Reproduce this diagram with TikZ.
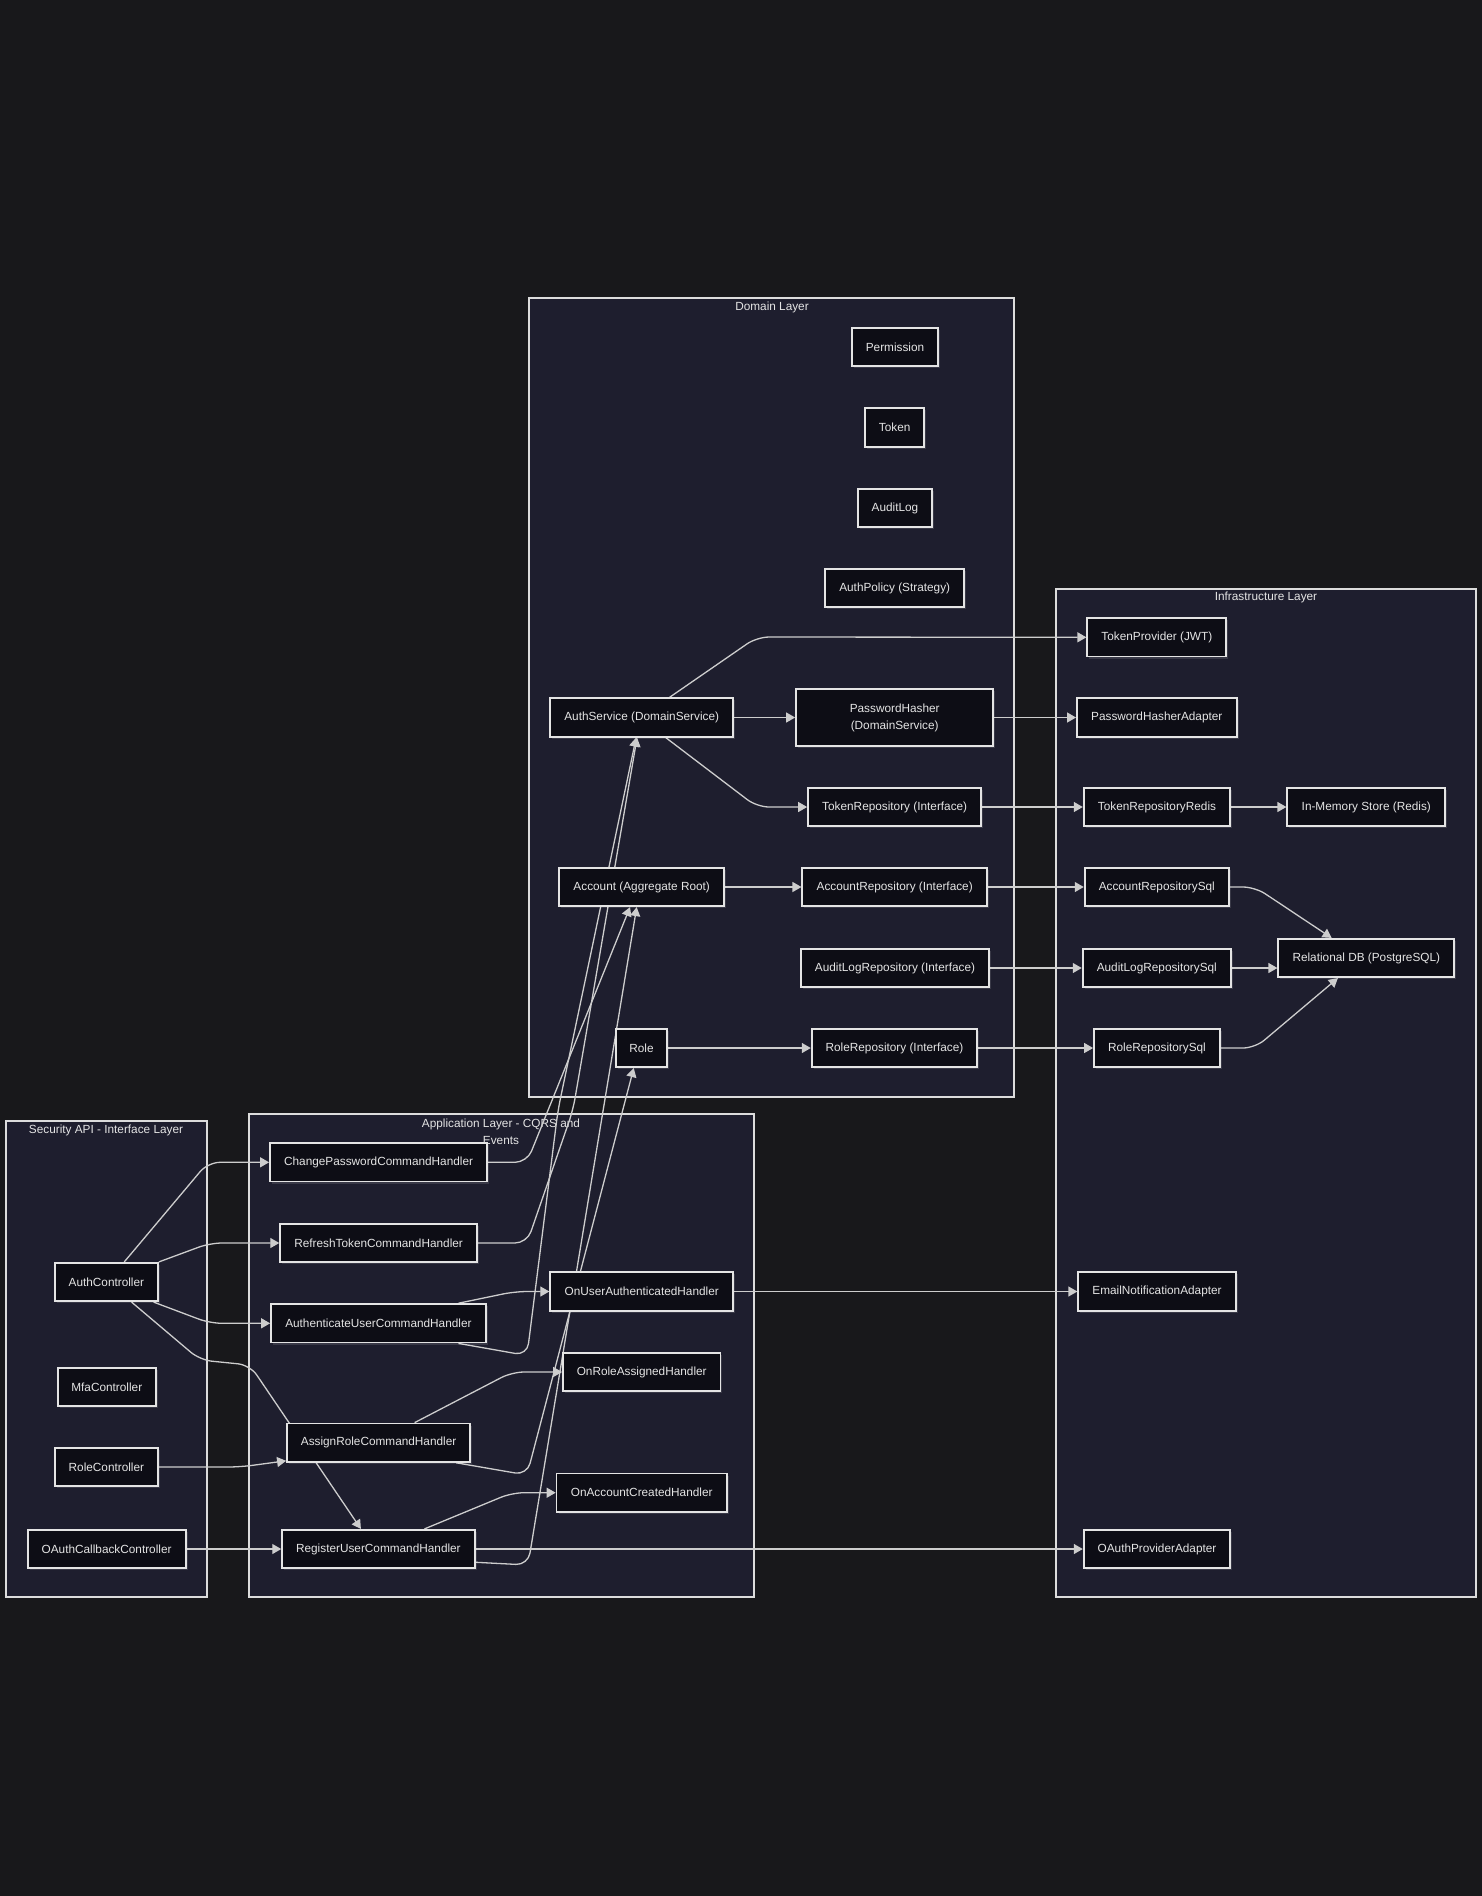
\documentclass[tikz,border=0pt]{standalone}
\usepackage{fontspec}
\setmainfont{Liberation Sans}
\usetikzlibrary{arrows.meta,calc,shadows}

\definecolor{canvas}{RGB}{24,24,27}
\definecolor{groupfill}{RGB}{30,30,46}
\definecolor{groupline}{RGB}{220,220,220}
\definecolor{boxfill}{RGB}{13,13,21}
\definecolor{boxline}{RGB}{228,228,228}
\definecolor{wire}{RGB}{205,205,205}
\definecolor{ink}{RGB}{228,228,228}

\pgfdeclarelayer{back}
\pgfdeclarelayer{wires}
\pgfsetlayers{back,wires,main}

\tikzset{
  comp/.style={draw=boxline, line width=1.8pt, fill=boxfill, text=ink,
    font=\fontsize{11.8}{17}\selectfont, minimum height=38.4pt,
    inner xsep=0pt, inner ysep=0pt, align=center,
    drop shadow={shadow xshift=2pt, shadow yshift=-2pt, fill=white, opacity=0.12}},
  group/.style={draw=groupline, line width=1.5pt, fill=groupfill},
  gtitle/.style={text=ink, font=\fontsize{11.8}{17}\selectfont, align=center, inner sep=0pt},
  link/.style={draw=wire, line width=1.3pt, -{Triangle[length=9pt,width=10pt]}, rounded corners=12pt},
}

\begin{document}
\begin{tikzpicture}[x=1pt,y=-1pt]
\useasboundingbox (0,0) rectangle (1482,1896);

% canvas, layer frames and their titles
\begin{pgfonlayer}{back}
  \fill[canvas] (0,0) rectangle (1482,1896);
  \draw[group] (529,298) rectangle (1014,1097);
  \draw[group] (1056,589) rectangle (1476,1597);
  \draw[group] (6,1121) rectangle (207,1597);
  \draw[group] (249,1114) rectangle (754,1597);
  \node[gtitle] (tdomain) at (772,307) {Domain Layer};
  \node[gtitle] (tinfra) at (1266,597) {Infrastructure Layer};
  \node[gtitle] (tapi) at (106,1130) {Security API - Interface Layer};
  \node[gtitle] (tapp) at (501,1131.5) {Application Layer - CQRS and\\Events};
\end{pgfonlayer}

% domain layer
\node[comp, minimum width=86.3pt]  (perm)      at (895,347)    {Permission};
\node[comp, minimum width=59.3pt]  (token)     at (894.7,427.5) {Token};
\node[comp, minimum width=74.3pt]  (auditlog)  at (895,508)    {AuditLog};
\node[comp, minimum width=139.3pt] (policy)    at (894.7,588)  {AuthPolicy (Strategy)};
\node[comp, minimum width=183.3pt] (authsvc)   at (641.7,717.5) {AuthService (DomainService)};
\node[comp, minimum width=197.3pt, minimum height=56.4pt] (hasher) at (894.7,717.5) {PasswordHasher\\(DomainService)};
\node[comp, minimum width=173.3pt] (tokrepo)   at (894.7,807)  {TokenRepository (Interface)};
\node[comp, minimum width=164.7pt] (account)   at (641.7,887)  {Account (Aggregate Root)};
\node[comp, minimum width=184.7pt] (accrepo)   at (894.7,887)  {AccountRepository (Interface)};
\node[comp, minimum width=188.3pt] (auditrepo) at (895,968)    {AuditLogRepository (Interface)};
\node[comp, minimum width=51.6pt]  (role)      at (641.5,1048) {Role};
\node[comp, minimum width=165.6pt] (rolerepo)  at (894.5,1048) {RoleRepository (Interface)};

% infrastructure layer
\node[comp, minimum width=139pt]   (tokprov)   at (1156.8,637.3) {TokenProvider (JWT)};
\node[comp, minimum width=159.7pt] (hashadapt) at (1156.8,717.5) {PasswordHasherAdapter};
\node[comp, minimum width=146.6pt] (tokredis)  at (1157,807)   {TokenRepositoryRedis};
\node[comp, minimum width=158pt]   (redis)     at (1366.3,807) {In-Memory Store (Redis)};
\node[comp, minimum width=144.3pt] (accsql)    at (1156.8,887) {AccountRepositorySql};
\node[comp, minimum width=148.3pt] (auditsql)  at (1156.8,968) {AuditLogRepositorySql};
\node[comp, minimum width=176pt]   (pg)        at (1366.3,958) {Relational DB (PostgreSQL)};
\node[comp, minimum width=126pt]   (rolesql)   at (1157,1048)  {RoleRepositorySql};
\node[comp, minimum width=157.5pt] (email)     at (1157,1291.5) {EmailNotificationAdapter};
\node[comp, minimum width=146.6pt] (oauthprov) at (1157,1549)  {OAuthProviderAdapter};

% application layer
\node[comp, minimum width=217.2pt] (chpw)      at (378.6,1162.3) {ChangePasswordCommandHandler};
\node[comp, minimum width=196.8pt] (refresh)   at (378.6,1243) {RefreshTokenCommandHandler};
\node[comp, minimum width=214.7pt] (authuser)  at (378.4,1323.3) {AuthenticateUserCommandHandler};
\node[comp, minimum width=183.2pt] (assign)    at (378.6,1442.7) {AssignRoleCommandHandler};
\node[comp, minimum width=192.5pt] (register)  at (378.4,1549) {RegisterUserCommandHandler};
\node[comp, minimum width=183pt]   (onuser)    at (641.7,1291.5) {OnUserAuthenticatedHandler};
\node[comp, minimum width=157.4pt] (onrole)    at (641.7,1372) {OnRoleAssignedHandler};
\node[comp, minimum width=170.3pt] (onacc)     at (641.7,1492.7) {OnAccountCreatedHandler};

% interface layer
\node[comp, minimum width=103.2pt] (authctl)   at (106.4,1282) {AuthController};
\node[comp, minimum width=98.3pt]  (mfa)       at (106.8,1386.8) {MfaController};
\node[comp, minimum width=103.2pt] (rolectl)   at (106.4,1467) {RoleController};
\node[comp, minimum width=158pt]   (oauthcb)   at (106.6,1549) {OAuthCallbackController};

\begin{pgfonlayer}{wires}
  % domain to infrastructure
  \draw[link] ($(authsvc.north west)!0.65!(authsvc.north east)$) -- (757,637) -- (tokprov.west);
  \draw[link] (authsvc.east) -- (hasher.west);
  \draw[link] ($(authsvc.south west)!0.63!(authsvc.south east)$) -- (757,807) -- (tokrepo.west);
  \draw[link] (hasher.east) -- (hashadapt.west);
  \draw[link] (tokrepo.east) -- (tokredis.west);
  \draw[link] (tokredis.east) -- (redis.west);
  \draw[link] (account.east) -- (accrepo.west);
  \draw[link] (accrepo.east) -- (accsql.west);
  \draw[link] (accsql.east) -- (1255,887) -- ($(pg.north west)!0.305!(pg.north east)$);
  \draw[link] (auditrepo.east) -- (auditsql.west);
  \draw[link] (auditsql.east) -- (auditsql.east -| pg.west);
  \draw[link] (rolerepo.east) -- (rolesql.west);
  \draw[link] (rolesql.east) -- (1255,1048) -- ($(pg.south west)!0.34!(pg.south east)$);
  \draw[link] (role.east) -- (rolerepo.west);

  % controllers to handlers
  \draw[link] ($(authctl.north west)!0.67!(authctl.north east)$) -- (208,1162.3) -- (chpw.west);
  \draw[link] (authctl.north east) -- (210,1243) -- (refresh.west);
  \draw[link] ($(authctl.south west)!0.95!(authctl.south east)$) -- (210,1323.3) -- (authuser.west);
  \draw[link] ($(authctl.south west)!0.74!(authctl.south east)$) -- (200,1360) -- (250,1365) -- ($(register.north west)!0.41!(register.north east)$);
  \draw[link] (rolectl.east) -- (240,1467) -- ($(assign.north west)!0.95!(assign.south west)$);
  \draw[link] (oauthcb.east) -- (register.west);

  % handlers to events and adapters
  \draw[link] ($(authuser.north west)!0.87!(authuser.north east)$) -- (515,1291.5) -- (onuser.west);
  \draw[link] ($(assign.north west)!0.695!(assign.north east)$) -- (512,1372) -- (onrole.west);
  \draw[link] ($(register.north west)!0.737!(register.north east)$) -- (512,1492.7) -- (onacc.west);
  \draw[link] (register.east) -- (oauthprov.west);
  \draw[link] (onuser.east) -- (email.west);

  % handlers up to the domain model
  \draw[link] (chpw.east) -- (527,1162.3) -- ($(account.south west)!0.43!(account.south east)$);
  \draw[link] ($(authuser.south west)!0.87!(authuser.south east)$) -- (527,1355.5) -- (558,1110) -- ($(authsvc.south west)!0.47!(authsvc.south east)$);
  \draw[link] (refresh.east) -- (527,1243) -- (573,1110) -- ($(authsvc.south west)!0.475!(authsvc.south east)$);
  \draw[link] ($(register.north east)!0.83!(register.south east)$) -- (528,1565) -- ($(account.south west)!0.47!(account.south east)$);
  \draw[link] ($(assign.south west)!0.92!(assign.south east)$) -- (527,1475) -- ($(role.south west)!0.355!(role.south east)$);
\end{pgfonlayer}
\end{tikzpicture}
\end{document}
